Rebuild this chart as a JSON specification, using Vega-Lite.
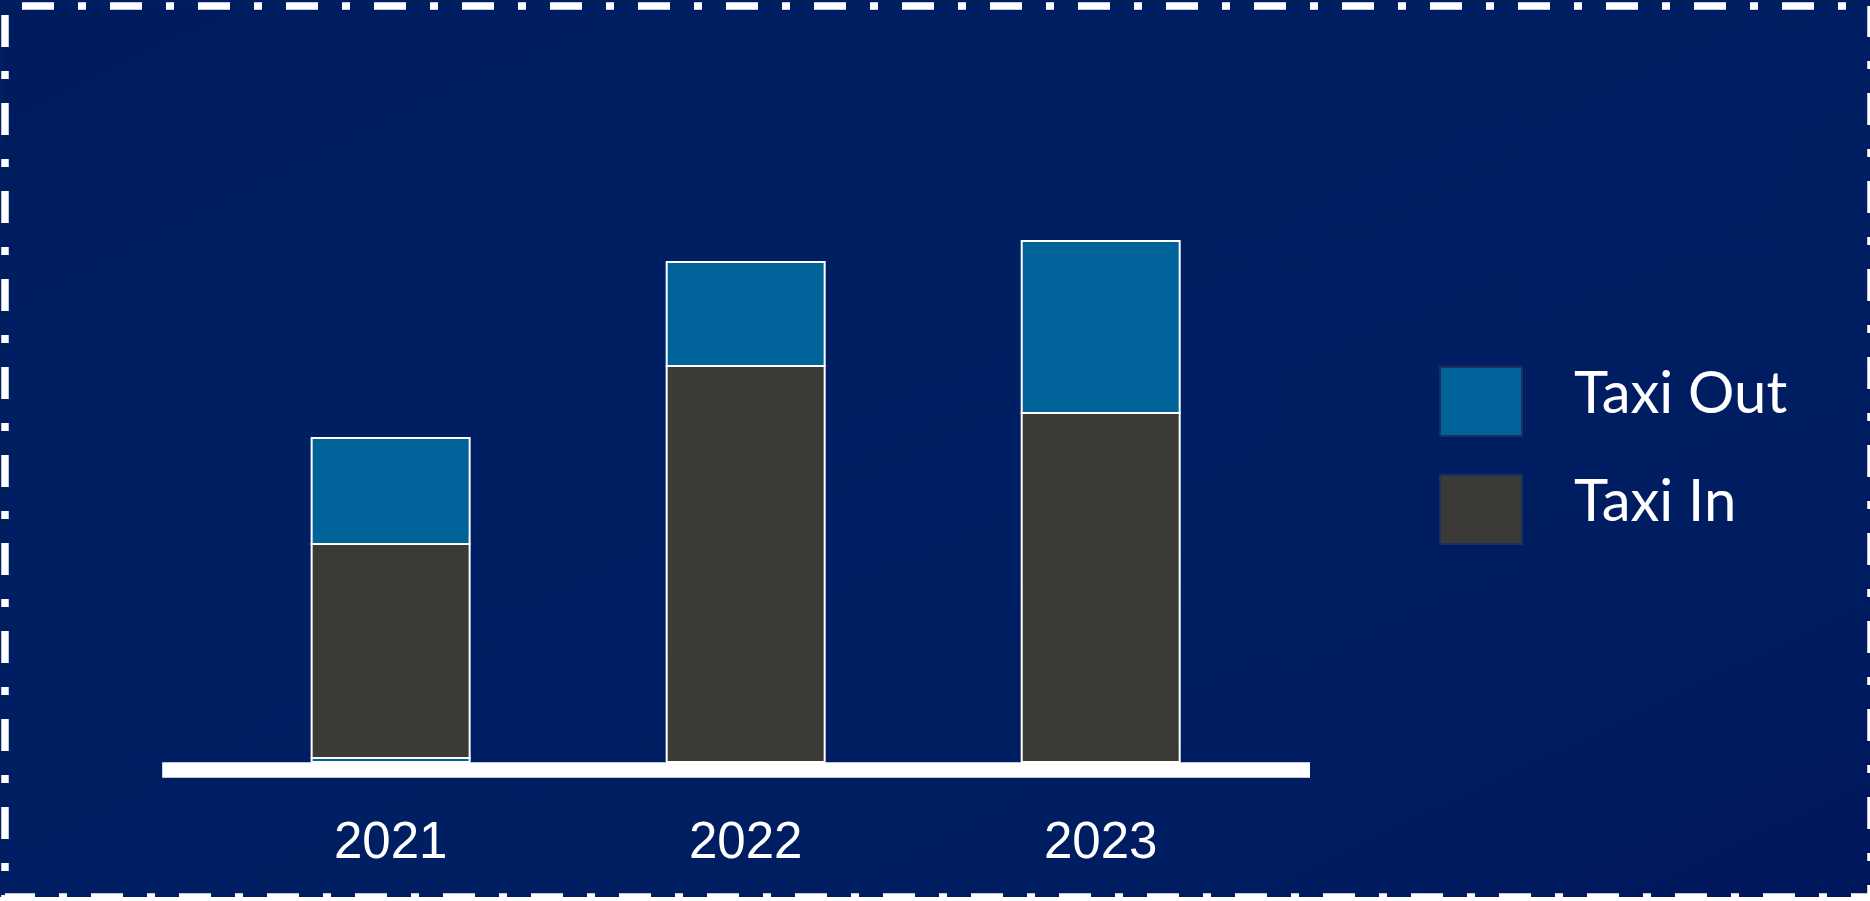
{
  "$schema": "https://vega.github.io/schema/vega-lite/v6.json",
  "autosize": "none",
  "width": 1866,
  "height": 891,
  "padding": {"left": 5, "top": 6, "right": 0, "bottom": 0},
  "background": "#011e61",
  "config": {
    "view": {
      "stroke": "#ffffff",
      "strokeWidth": 7.5,
      "strokeDash": [32, 24, 8, 24],
      "strokeDashOffset": 71,
      "fill": {
        "gradient": "linear",
        "x1": 0, "y1": 0, "x2": 1, "y2": 1,
        "stops": [
          {"offset": 0, "color": "#001b5e"},
          {"offset": 0.25, "color": "#001f63"},
          {"offset": 0.8, "color": "#001d62"},
          {"offset": 1, "color": "#00165c"}
        ]
      }
    },
    "legend": {
      "symbolStrokeColor": "#1c2f5e",
      "symbolStrokeWidth": 2
    }
  },
  "data": {
    "values": [
      {"year": "2021", "type": "Taxi Out", "value": 4, "order": 0},
      {"year": "2021", "type": "Taxi In", "value": 214, "order": 1},
      {"year": "2021", "type": "Taxi Out", "value": 106, "order": 2},
      {"year": "2022", "type": "Taxi In", "value": 396, "order": 1},
      {"year": "2022", "type": "Taxi Out", "value": 104, "order": 2},
      {"year": "2023", "type": "Taxi In", "value": 349, "order": 1},
      {"year": "2023", "type": "Taxi Out", "value": 172, "order": 2}
    ]
  },
  "mark": {"type": "bar", "stroke": "#ffffff", "strokeWidth": 2},
  "encoding": {
    "x": {
      "field": "year",
      "type": "ordinal",
      "scale": {
        "range": [156.7, 1304.5],
        "paddingInner": 0.555,
        "paddingOuter": 0.394,
        "align": 0.536,
        "round": false
      },
      "axis": {
        "title": null,
        "domainColor": "#ffffff",
        "domainWidth": 15.5,
        "ticks": false,
        "tickSize": 0,
        "offset": -127.5,
        "labelColor": "#ffffff",
        "labelFont": "Liberation Sans",
        "labelFontSize": 51,
        "labelPadding": 72.5,
        "labelBaseline": "middle",
        "labelAngle": 0,
        "grid": false
      }
    },
    "y": {
      "field": "value",
      "type": "quantitative",
      "stack": "zero",
      "scale": {"domain": [0, 600], "range": [756, 156], "nice": false},
      "axis": null
    },
    "color": {
      "field": "type",
      "type": "nominal",
      "scale": {"domain": ["Taxi Out", "Taxi In"], "range": ["#006399", "#3c3a37"]},
      "legend": {
        "title": null,
        "orient": "none",
        "legendX": 1434,
        "legendY": 353.5,
        "padding": 0,
        "symbolType": "M-1,-0.8415H1V0.8415H-1Z",
        "symbolSize": 6724,
        "symbolOpacity": 1,
        "symbolStrokeColor": "#1c2f5e",
        "symbolStrokeWidth": 2,
        "labelFont": "Lato",
        "labelFontSize": 58,
        "labelColor": "#ffffff",
        "labelOffset": 51,
        "labelLimit": 0,
        "rowPadding": 27,
        "encode": {
          "labels": {
            "update": {
              "dy": {"value": -6}
            }
          }
        }
      }
    },
    "order": {"field": "order", "type": "quantitative", "sort": "ascending"}
  }
}
